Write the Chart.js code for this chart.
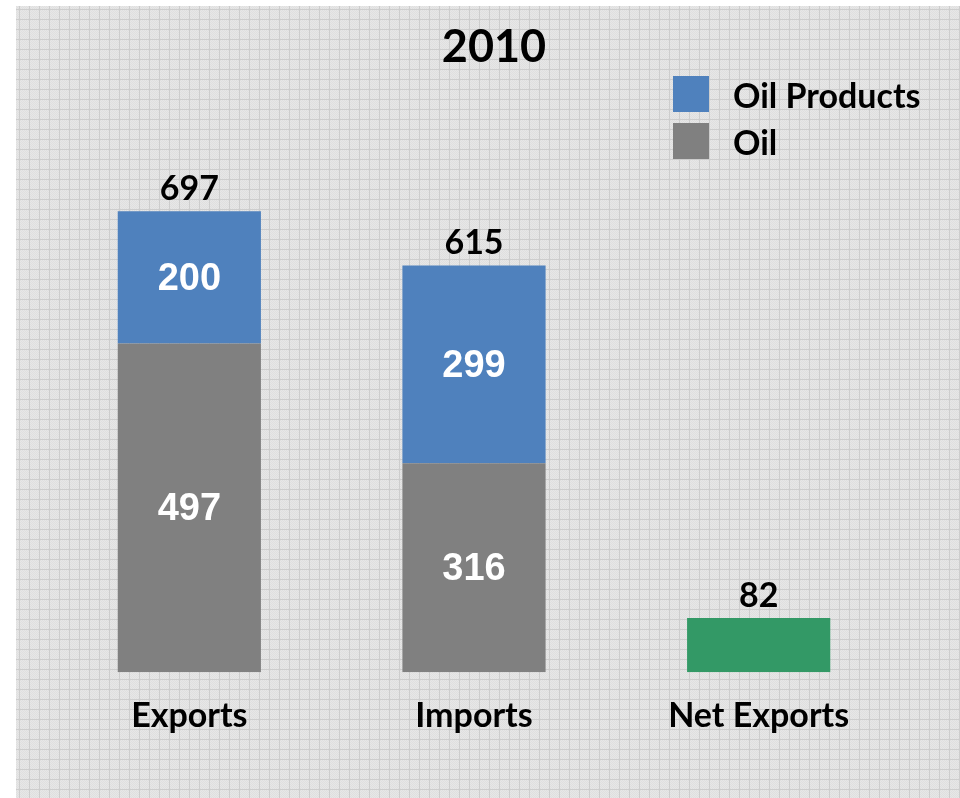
<!DOCTYPE html>
<html lang="en">
<head>
  <meta charset="UTF-8">
  <title>2010 - Oil trade</title>
  <script src="https://cdn.jsdelivr.net/npm/chart.js"></script>
  <style>
    html, body { margin: 0; padding: 0; background: #fff; }
    .chart-box { position: relative; width: 960px; height: 798px; }
  </style>
</head>
<body>
<div class="chart-box">
  <canvas id="tradeChart" width="960" height="798"></canvas>
</div>

<script>
// values for 2010
const categories = ['Exports', 'Imports', 'Net Exports'];
const oil = [497, 316, null];
const oilProducts = [200, 299, null];
const netExports = [null, null, 82];

const BLUE = '#4f81bd';
const GREY = '#808080';
const GREEN = '#339966';

// totals shown above each column
const totals = categories.map((c, i) => (oil[i] || 0) + (oilProducts[i] || 0) + (netExports[i] || 0));

// little grid tile for the grey paper background
function makeTile() {
  const t = document.createElement('canvas');
  t.width = 10; t.height = 10;
  const g = t.getContext('2d');
  g.fillStyle = '#e7e7e7';
  g.fillRect(0, 0, 10, 10);
  g.fillStyle = '#dfdfdf';
  for (let y = 0; y < 10; y++) {
    for (let x = (y % 2); x < 10; x += 2) g.fillRect(x, y, 1, 1);
  }
  g.fillStyle = '#cdcdcd';
  g.fillRect(9, 0, 1, 10);
  g.fillRect(0, 9, 10, 1);
  return t;
}

const paperBackground = {
  id: 'paperBackground',
  beforeDraw(chart) {
    const ctx = chart.ctx;
    ctx.save();
    ctx.fillStyle = '#ffffff';
    ctx.fillRect(0, 0, chart.width, chart.height);
    ctx.fillStyle = ctx.createPattern(makeTile(), 'repeat');
    ctx.fillRect(16, 6, chart.width - 16, chart.height - 6);
    ctx.restore();
  }
};

// numbers inside the segments and totals on top
const valueLabels = {
  id: 'valueLabels',
  afterDatasetsDraw(chart) {
    const ctx = chart.ctx;
    ctx.save();
    ctx.textAlign = 'center';
    ctx.textBaseline = 'middle';
    chart.data.datasets.forEach((ds, di) => {
      if (!ds.inside) return;
      chart.getDatasetMeta(di).data.forEach((bar, i) => {
        if (ds.data[i] == null) return;
        ctx.fillStyle = '#ffffff';
        ctx.font = 'bold 38px "Liberation Sans", Arial, sans-serif';
        ctx.fillText(String(ds.data[i]), bar.x, (bar.y + bar.base) / 2 + 2);
      });
    });
    const xs = chart.scales.x, ys = chart.scales.y;
    ctx.fillStyle = '#000000';
    ctx.font = 'bold 34px Lato, sans-serif';
    totals.forEach((v, i) => {
      ctx.fillText(String(v), xs.getPixelForValue(i), ys.getPixelForValue(v) - 22);
    });
    ctx.restore();
  }
};

// title and legend in the upper part
const header = {
  id: 'header',
  afterDraw(chart) {
    const ctx = chart.ctx;
    ctx.save();
    ctx.fillStyle = '#000000';
    ctx.textAlign = 'center';
    ctx.textBaseline = 'middle';
    ctx.font = 'bold 45px Lato, sans-serif';
    ctx.fillText('2010', 494, 47);

    const items = [
      { text: 'Oil Products', color: BLUE },
      { text: 'Oil', color: GREY }
    ];
    ctx.font = 'bold 34px Lato, sans-serif';
    ctx.textAlign = 'left';
    items.forEach((it, i) => {
      const y = 76 + i * 47;
      ctx.fillStyle = it.color;
      ctx.fillRect(673, y, 36, 36);
      ctx.fillStyle = '#000000';
      ctx.fillText(it.text, 733, y + 21);
    });
    ctx.restore();
  }
};

new Chart(document.getElementById('tradeChart'), {
  type: 'bar',
  data: {
    labels: categories,
    datasets: [
      { label: 'Oil', data: oil, backgroundColor: GREY, stack: 's', inside: true },
      { label: 'Oil Products', data: oilProducts, backgroundColor: BLUE, stack: 's', inside: true },
      { label: 'Net Exports', data: netExports, backgroundColor: GREEN, stack: 's' }
    ]
  },
  options: {
    responsive: false,
    animation: false,
    layout: { padding: { left: 47, right: 59, top: 100, bottom: 39 } },
    categoryPercentage: 1,
    barPercentage: 0.503,
    plugins: {
      legend: { display: false },
      tooltip: { enabled: false },
      title: { display: false }
    },
    scales: {
      x: {
        stacked: true,
        grid: { display: false, drawTicks: false },
        border: { display: false },
        ticks: {
          color: '#000000',
          padding: 23,
          font: { family: 'Lato, sans-serif', size: 34, weight: 'bold', lineHeight: 1.2 }
        }
      },
      y: {
        stacked: true,
        display: false,
        min: 0,
        max: 865
      }
    }
  },
  plugins: [paperBackground, valueLabels, header]
});
</script>
</body>
</html>
